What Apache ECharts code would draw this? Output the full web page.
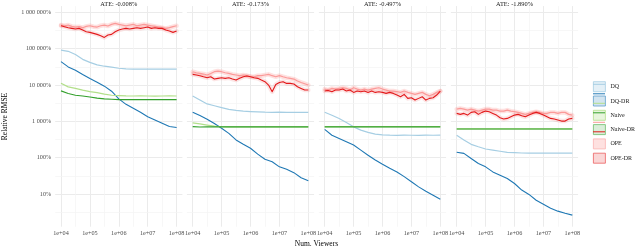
<!DOCTYPE html>
<html><head><meta charset="utf-8">
<script src="https://cdn.jsdelivr.net/npm/echarts@6/dist/echarts.min.js"></script>
<style>html,body{margin:0;padding:0;background:#fff}#c{width:640px;height:248px}</style>
</head><body><div id="c"></div>
<script>
// ---------- data ----------
const panelTitles = ['ATE: -0.008%', 'ATE: -0.173%', 'ATE: -0.497%', 'ATE: -1.890%'];
const methods = ['DQ', 'DQ-DR', 'Naive', 'Naive-DR', 'OPE', 'OPE-DR'];
const xTickValues = [1e4, 1e5, 1e6, 1e7, 1e8];
const xMinorValues = [31623, 316228, 3162278, 31622777];
const yTickValues = [10, 100, 1000, 10000, 100000, 1000000];
const yMinorValues = [3.162, 31.62, 316.2, 3162, 31623, 316228];

const viewersCoarse = [10000, 17783, 31623, 56234, 100000, 177828, 316228, 562341, 1000000,
  1778279, 3162278, 5623413, 10000000, 17782794, 31622777, 56234133, 100000000];
const viewersFine = [10000, 13335, 17783, 23714, 31623, 42170, 56234, 74989, 100000, 133352,
  177828, 237137, 316228, 421697, 562341, 749894, 1000000, 1333521, 1778279, 2371374, 3162278,
  4216965, 5623413, 7498942, 10000000, 13335214, 17782794, 23713737, 31622777, 42169650,
  56234133, 74989421, 100000000];

const dqValues = [
  [91000, 85000, 69000, 51000, 42000, 36000, 33000, 31000, 29000, 28000, 27500, 27600, 27400, 27500, 27300, 27400, 27300],
  [5010, 3890, 3020, 2690, 2400, 2140, 2000, 1910, 1860, 1820, 1790, 1780, 1790, 1780, 1770, 1780, 1780],
  [1780, 1480, 1200, 933, 708, 575, 501, 447, 427, 417, 415, 417, 416, 415, 417, 416, 417],
  [417, 309, 234, 200, 174, 162, 151, 141, 138, 135, 134, 135, 134, 135, 134, 135, 134]
];
const dqDrValues = [
  [44000, 31600, 25700, 19500, 15100, 12000, 9330, 6760, 4170, 2950, 2290, 1780, 1350, 1100, 891, 724, 676],
  [1780, 1450, 1150, 871, 646, 468, 309, 234, 182, 126, 91.2, 77.6, 56.2, 47.9, 38.9, 28.2, 23.4],
  [603, 417, 339, 275, 224, 162, 117, 87.1, 66.1, 51.3, 40.7, 30.2, 21.9, 15.8, 12.0, 9.33, 7.24],
  [141, 132, 95.5, 69.2, 56.2, 40.7, 33.1, 26.9, 19.5, 12.9, 9.77, 6.76, 5.25, 4.07, 3.39, 2.95, 2.63]
];
const naiveValues = [
  [11200, 8910, 8130, 7240, 6610, 6170, 5620, 5250, 5130, 5010, 5000, 5010, 5000, 4990, 5000, 5010, 5000],
  [912, 851, 794, 741, 712, 710, 708, 708, 709, 708, 708, 709, 708, 708, 708, 709, 708],
  [722, 721, 720, 720, 721, 720, 720, 721, 720, 720, 720, 721, 720, 720, 720, 721, 720],
  [622, 621, 620, 620, 621, 620, 620, 621, 620, 620, 620, 621, 620, 620, 620, 621, 620]
];
const naiveDrValues = [
  [6920, 5890, 5250, 5010, 4680, 4370, 4170, 4070, 3980, 3980, 3970, 3980, 3980, 3970, 3980, 3980, 3980],
  [716, 700, 706, 708, 708, 707, 708, 708, 708, 707, 708, 708, 708, 708, 707, 708, 708],
  [708, 708, 707, 708, 708, 708, 707, 708, 708, 708, 707, 708, 708, 708, 708, 707, 708],
  [617, 617, 616, 617, 617, 617, 616, 617, 617, 617, 616, 617, 617, 617, 617, 616, 617]
];
const opeValues = [
  [448000, 429000, 448000, 412000, 395000, 404000, 379000, 412000, 429000, 404000, 395000, 429000, 448000, 421000, 468000, 498000, 468000, 448000, 429000, 448000, 468000, 429000, 448000, 468000, 448000, 429000, 412000, 395000, 379000, 363000, 379000, 404000, 429000],
  [23300, 21800, 20900, 20100, 18900, 20900, 23300, 24300, 23300, 21800, 20900, 19700, 18900, 18100, 18900, 18100, 16900, 16900, 18100, 18100, 18900, 19700, 18100, 16900, 18100, 16900, 15900, 15300, 14600, 12900, 11800, 10900, 10000],
  [7760, 7280, 8100, 7760, 8100, 8450, 8100, 7280, 8450, 7760, 7280, 7760, 7280, 7760, 8100, 8450, 7760, 7280, 6840, 6840, 6560, 6280, 6840, 6280, 5900, 5540, 5900, 6280, 5540, 5090, 5540, 6280, 6840],
  [2180, 2280, 2180, 2050, 2180, 2050, 1920, 2050, 2180, 2180, 2050, 2050, 1920, 1920, 2050, 1920, 1850, 1770, 1660, 1560, 1660, 1770, 1850, 1770, 1660, 1660, 1770, 1770, 1660, 1770, 1770, 1560, 1490]
];
const opeDrValues = [
  [429000, 404000, 379000, 363000, 348000, 363000, 327000, 294000, 282000, 264000, 248000, 228000, 205000, 238000, 248000, 294000, 327000, 348000, 363000, 348000, 363000, 379000, 363000, 379000, 395000, 363000, 379000, 363000, 363000, 327000, 306000, 282000, 306000],
  [19700, 18900, 18100, 16900, 15900, 16900, 14600, 15300, 15900, 15300, 15900, 14600, 13700, 15300, 16900, 17700, 16900, 15900, 15300, 13700, 12400, 10000, 6560, 10400, 11800, 12400, 11100, 11100, 10700, 9000, 8100, 7280, 7280],
  [6840, 7130, 6560, 7280, 7280, 7760, 6840, 7280, 6280, 6840, 6560, 6840, 6280, 6840, 6280, 6560, 6280, 5900, 6280, 5900, 5310, 4770, 5540, 4300, 4480, 3860, 4300, 4770, 3860, 4300, 4480, 5310, 6840],
  [1660, 1560, 1660, 1490, 1770, 1850, 1560, 1770, 1920, 1850, 1660, 1490, 1260, 1160, 1210, 1340, 1490, 1560, 1430, 1340, 1490, 1660, 1770, 1660, 1490, 1340, 1210, 1160, 1090, 1020, 1020, 1160, 1210]
];

// ---------- styles / layout ----------
const FONT = '"Liberation Serif", "DejaVu Serif", serif';
const colors = { 'DQ': '#a6cee3', 'DQ-DR': '#1f78b4', 'Naive': '#b2df8a', 'Naive-DR': '#33a02c', 'OPE': '#fb9a99', 'OPE-DR': '#e31a1c' };
const keyFill = { 'DQ': 'rgba(166,206,227,0.3)', 'DQ-DR': 'rgba(31,120,180,0.2)', 'Naive': 'rgba(178,223,138,0.3)', 'Naive-DR': 'rgba(51,160,44,0.18)', 'OPE': 'rgba(251,154,153,0.3)', 'OPE-DR': 'rgba(227,26,28,0.18)' };
const keyBorder = { 'DQ': '#a6cee3', 'DQ-DR': '#5f9fcb', 'Naive': '#b2df8a', 'Naive-DR': '#6fbd69', 'OPE': '#fbb4b3', 'OPE-DR': '#ec6162' };
const panelLefts = [55.2, 186.9, 318.9, 450.9];
const panelWidth = 127.2, panelTop = 6.1, panelHeight = 220.6;
const xMin = 6309.6, xMax = 158489319, yMin = 1.265, yMax = 1489000;

function isPow10(v) { const e = Math.log10(v); return Math.abs(e - Math.round(e)) < 1e-6; }
function xFmt(v) { if (!isPow10(v)) return ''; const e = Math.round(Math.log10(v)); return '1e+' + String(e).padStart(2, '0'); }
function yFmt(v) { if (!isPow10(v)) return ''; return String(Math.round(v)).replace(/\B(?=(\d{3})+(?!\d))/g, ' ') + '%'; }

const grids = [], xAxes = [], yAxes = [], series = [];
const seriesData = { 'DQ': dqValues, 'DQ-DR': dqDrValues, 'Naive': naiveValues, 'Naive-DR': naiveDrValues, 'OPE': opeValues, 'OPE-DR': opeDrValues };
const fineSet = { 'OPE': true, 'OPE-DR': true };

for (let p = 0; p < 4; p++) {
  grids.push({ left: panelLefts[p], top: panelTop, width: panelWidth, height: panelHeight, outerBoundsMode: 'none', containLabel: false });
  xAxes.push({
    type: 'log', logBase: 10, gridIndex: p, min: xMin, max: xMax,
    axisLine: { show: false }, axisTick: { show: false },
    splitLine: { show: true, showMinLine: false, showMaxLine: false, lineStyle: { color: '#ebebeb', width: 1 } },
    axisLabel: { formatter: xFmt, color: '#4d4d4d', fontSize: 6.2, fontFamily: FONT, margin: 4, showMinLabel: true, showMaxLabel: true }
  });
  yAxes.push({
    type: 'log', logBase: 10, gridIndex: p, min: yMin, max: yMax,
    axisLine: { show: false }, axisTick: { show: false },
    splitLine: { show: true, showMinLine: false, showMaxLine: false, lineStyle: { color: '#ebebeb', width: 1 } },
    axisLabel: { show: p === 0, formatter: yFmt, color: '#4d4d4d', fontSize: 6.2, fontFamily: FONT, margin: 4 }
  });
  // minor grid lines (values through the axes)
  series.push({
    type: 'line', name: 'grid' + p, xAxisIndex: p, yAxisIndex: p, data: [], z: 0, silent: true,
    markLine: {
      silent: true, z: 0, symbol: ['none', 'none'], label: { show: false }, animation: false,
      emphasis: { disabled: true },
      lineStyle: { color: '#f3f3f3', width: 0.7, type: 'solid' },
      data: xMinorValues.map(v => ({ xAxis: v })).concat(yMinorValues.map(v => ({ yAxis: v })))
    }
  });
  // ribbons (drawn as wide translucent strokes)
  ['OPE', 'OPE-DR'].forEach(m => {
    series.push({
      type: 'line', name: m + ' band', xAxisIndex: p, yAxisIndex: p, showSymbol: false, symbol: 'none', silent: true, z: 1,
      data: viewersFine.map((x, i) => [x, seriesData[m][p][i]]),
      lineStyle: { color: m === 'OPE' ? 'rgba(251,154,153,0.3)' : 'rgba(235,70,72,0.14)', width: 4.5, join: 'round', cap: 'round' }
    });
  });
  methods.forEach(m => {
    const xs = fineSet[m] ? viewersFine : viewersCoarse;
    series.push({
      type: 'line', name: m, xAxisIndex: p, yAxisIndex: p, showSymbol: false, symbol: 'none', z: 2,
      data: xs.map((x, i) => [x, seriesData[m][p][i]]),
      itemStyle: { color: colors[m] },
      lineStyle: { color: colors[m], width: (m === 'DQ' || m === 'Naive' || m === 'OPE') ? 1.2 : 1.1, join: 'round' }
    });
  });
}

const legendBase = {
  orient: 'vertical', left: 593, top: 81.3, padding: 0, itemWidth: 12, itemHeight: 10, itemGap: 3.5,
  selectedMode: false, symbolKeepAspect: true
};
const legends = [
  Object.assign({}, legendBase, {
    icon: 'rect',
    textStyle: { fontFamily: FONT, fontSize: 6, color: '#1a1a1a' },
    data: methods.map(m => ({ name: m, itemStyle: { color: keyFill[m], borderColor: keyBorder[m], borderWidth: 0.8 } }))
  }),
  Object.assign({}, legendBase, {
    icon: 'path://M0,0h12v1h-12z',
    textStyle: { fontFamily: FONT, fontSize: 6, color: 'rgba(0,0,0,0)' },
    data: methods.map(m => ({ name: m, itemStyle: { color: colors[m], borderWidth: 0 } }))
  })
];

const graphics = panelTitles.map((t, p) => ({
  type: 'text', x: panelLefts[p] + panelWidth / 2, y: 4.3,
  style: { text: t, align: 'center', verticalAlign: 'middle', fill: '#1a1a1a', font: '6.4px ' + FONT }
}));
graphics.push({
  type: 'text', x: 5, y: 116.5, rotation: Math.PI / 2,
  style: { text: 'Relative RMSE', align: 'center', verticalAlign: 'middle', fill: '#000', font: '7.5px ' + FONT }
});
graphics.push({
  type: 'text', x: 316.4, y: 244.5,
  style: { text: 'Num. Viewers', align: 'center', verticalAlign: 'middle', fill: '#000', font: '7.5px ' + FONT }
});

const chart = echarts.init(document.getElementById('c'), null, { renderer: 'canvas' });
chart.setOption({
  animation: false,
  backgroundColor: '#ffffff',
  grid: grids, xAxis: xAxes, yAxis: yAxes, series: series,
  legend: legends,
  graphic: { elements: graphics }
});
</script>
</body></html>
